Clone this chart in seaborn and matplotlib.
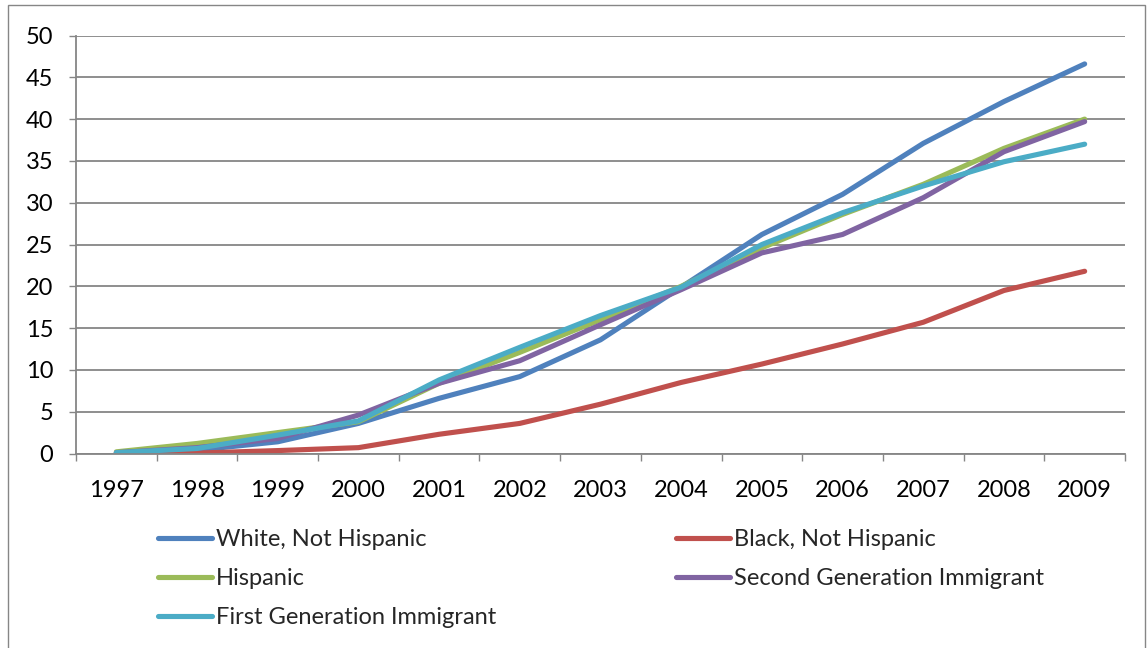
import matplotlib
matplotlib.use("Agg")
import matplotlib.pyplot as plt
from matplotlib.patches import Rectangle
from matplotlib.ticker import FixedLocator, MultipleLocator
import numpy as np
import pandas as pd
import seaborn as sns

# Cumulative share by group, 1997-2009
years = [1997, 1998, 1999, 2000, 2001, 2002, 2003, 2004, 2005, 2006, 2007, 2008, 2009]
white_not_hispanic = [0.1, 0.4, 1.4, 3.6, 6.6, 9.2, 13.6, 19.9, 26.2, 31.0, 37.1, 42.1, 46.6]
black_not_hispanic = [0.0, 0.05, 0.35, 0.7, 2.3, 3.6, 5.9, 8.5, 10.7, 13.1, 15.7, 19.5, 21.8]
hispanic = [0.2, 1.2, 2.5, 3.8, 8.4, 12.1, 16.0, 20.0, 24.6, 28.6, 32.2, 36.5, 40.0]
second_gen = [0.1, 0.7, 1.8, 4.6, 8.4, 11.1, 15.4, 19.6, 24.0, 26.2, 30.6, 36.1, 39.7]
first_gen = [0.1, 0.6, 2.2, 3.9, 8.8, 12.7, 16.5, 19.9, 25.0, 28.8, 32.0, 34.9, 37.0]

series_names = ["White, Not Hispanic", "Black, Not Hispanic", "Hispanic",
                "Second Generation Immigrant", "First Generation Immigrant"]
series_values = [white_not_hispanic, black_not_hispanic, hispanic, second_gen, first_gen]
colors = ["#4F81BD", "#C0504D", "#9BBB59", "#8064A2", "#4BACC6"]

rows = []
for name, vals in zip(series_names, series_values):
    for i, (yr, v) in enumerate(zip(years, vals)):
        rows.append({"pos": i, "year": yr, "value": v, "series": name})
df = pd.DataFrame(rows)

sns.set_style("white")
plt.rcParams["font.family"] = ["Lato", "DejaVu Sans"]

W, H = 1148, 648
fig = plt.figure(figsize=(W / 100, H / 100), dpi=100)
fig.patch.set_facecolor("white")

# plot area in pixel coordinates
left, right, top, bottom = 76, 1125, 35.5, 453.5
ax = fig.add_axes([left / W, (H - bottom) / H, (right - left) / W, (bottom - top) / H])

grid_col = "#868686"
lw = 3.7
fs = 17

sns.lineplot(data=df, x="pos", y="value", hue="series", hue_order=series_names,
             palette=colors, linewidth=lw, legend=False, ax=ax,
             solid_capstyle="round", solid_joinstyle="round", sort=False)

ax.set_xlim(-0.5, len(years) - 0.5)
ax.set_ylim(0, 50)
ax.set_xlabel("")
ax.set_ylabel("")

# y axis: gridlines every 5, outward ticks
ax.yaxis.set_major_locator(MultipleLocator(5))
ax.yaxis.grid(True, color=grid_col, linewidth=1.3)
ax.xaxis.grid(False)
ax.set_axisbelow(True)
ax.tick_params(axis="y", which="major", direction="out", length=5.2, width=1,
               color=grid_col, pad=11, labelsize=fs, labelcolor="black", left=True)

# x axis: category labels centred, tick marks between categories
ax.xaxis.set_major_locator(FixedLocator(range(len(years))))
ax.set_xticklabels([str(y) for y in years])
ax.xaxis.set_minor_locator(FixedLocator(np.arange(-0.5, len(years), 1.0)))
ax.tick_params(axis="x", which="major", length=0, pad=19, labelsize=fs, labelcolor="black")
ax.tick_params(axis="x", which="minor", direction="out", length=5.2, width=1,
               color=grid_col, bottom=True)

for side in ["top", "right"]:
    ax.spines[side].set_visible(False)
for side in ["left", "bottom"]:
    ax.spines[side].set_color(grid_col)
    ax.spines[side].set_linewidth(1.3)

# legend in two columns, filled row by row
handles = ax.get_lines()[:len(series_names)]
leg_kw = dict(frameon=False, fontsize=fs, handlelength=2.29, handletextpad=0.17,
              borderpad=0, borderaxespad=0, labelspacing=0.76, loc="upper left")
col1 = [0, 2, 4]
col2 = [1, 3]
leg1 = fig.legend([handles[i] for i in col1], [series_names[i] for i in col1],
                  bbox_to_anchor=(158 / W, (H - 529) / H), **leg_kw)
leg2 = fig.legend([handles[i] for i in col2], [series_names[i] for i in col2],
                  bbox_to_anchor=(676 / W, (H - 529) / H), **leg_kw)
for leg in (leg1, leg2):
    for line in leg.get_lines():
        line.set_linewidth(lw)
        line.set_solid_capstyle("round")

# chart area border
fig.patches.append(Rectangle((8 / W, -0.02), (1145 - 8) / W, (H - 5) / H + 0.02,
                             transform=fig.transFigure, fill=False,
                             edgecolor=grid_col, linewidth=1))

fig.savefig("out.png", dpi=100)
